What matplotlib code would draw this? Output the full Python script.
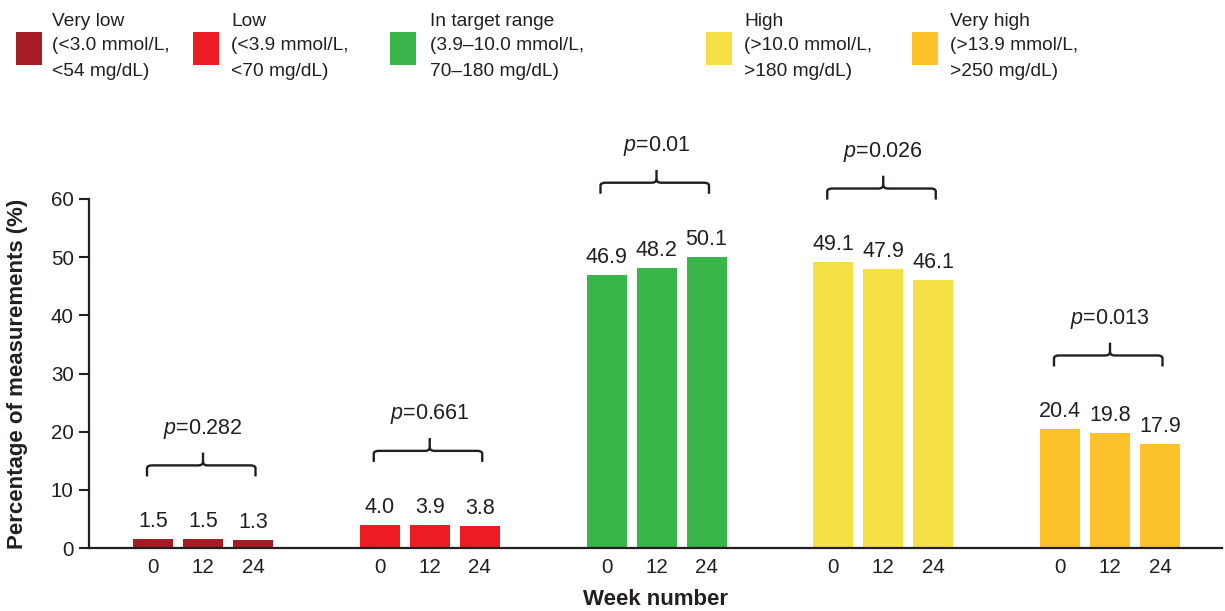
import matplotlib
matplotlib.use("Agg")
import matplotlib.pyplot as plt
import numpy as np
from matplotlib.patches import Rectangle
from matplotlib.path import Path
from matplotlib.patches import PathPatch

plt.rcParams['font.family'] = ['Liberation Sans', 'DejaVu Sans']
plt.rcParams['mathtext.fontset'] = 'custom'
plt.rcParams['mathtext.rm'] = 'Liberation Sans'
plt.rcParams['mathtext.it'] = 'Liberation Sans:italic'

weeks = ["0", "12", "24"]
categories = ["Very low", "Low", "In target range", "High", "Very high"]
legend_sub = ["(<3.0 mmol/L,\n<54 mg/dL)", "(<3.9 mmol/L,\n<70 mg/dL)",
              "(3.9\u201310.0 mmol/L,\n70\u2013180 mg/dL)", "(>10.0 mmol/L,\n>180 mg/dL)",
              "(>13.9 mmol/L,\n>250 mg/dL)"]
values = [[1.5, 1.5, 1.3], [4.0, 3.9, 3.8], [46.9, 48.2, 50.1],
          [49.1, 47.9, 46.1], [20.4, 19.8, 17.9]]
pvalues = ["0.282", "0.661", "0.01", "0.026", "0.013"]
colors = ["#A51C24", "#ED1C24", "#39B54A", "#F5E146", "#FBC22A"]

TXT = "#231F20"
W, H = 1225, 611
fig = plt.figure(figsize=(W / 100, H / 100), dpi=100)
ax = fig.add_axes([89 / W, 1 - 548 / H, (1222 - 89) / W, (548 - 199) / H])

group_step = 4.535
first_center = 2.28
offsets = np.array([-1, 0, 1])
xtick_pos, xtick_lab = [], []
for g, vals in enumerate(values):
    c = first_center + g * group_step
    xs = c + offsets
    ax.bar(xs, vals, width=0.8, color=colors[g], edgecolor='none', zorder=2)
    for x, v in zip(xs, vals):
        ax.text(x, v + 1.2, f"{v:.1f}", ha='center', va='bottom', fontsize=15.5, color=TXT)
    xtick_pos.extend(xs)
    xtick_lab.extend(weeks)
    # curly bracket
    base = max(vals) + 10.8
    xl, xr = xs[0] - 0.12, xs[-1] + 0.05
    hy = base + 1.9
    r = 0.1
    verts = [(xl, base), (xl, hy - 0.5), (xl, hy), (xl + r, hy),
             (c - r, hy), (c, hy), (c, hy + 0.6), (c, hy + 2.2)]
    codes = [Path.MOVETO, Path.LINETO, Path.CURVE3, Path.CURVE3,
             Path.LINETO, Path.CURVE3, Path.CURVE3, Path.LINETO]
    ax.add_patch(PathPatch(Path(verts, codes), fill=False, edgecolor=TXT, lw=1.7, clip_on=False))
    verts = [(xr, base), (xr, hy - 0.5), (xr, hy), (xr - r, hy),
             (c + r, hy), (c, hy), (c, hy + 0.6)]
    codes = [Path.MOVETO, Path.LINETO, Path.CURVE3, Path.CURVE3,
             Path.LINETO, Path.CURVE3, Path.CURVE3]
    ax.add_patch(PathPatch(Path(verts, codes), fill=False, edgecolor=TXT, lw=1.7, clip_on=False))
    ax.text(c, hy + 6.3, r"$\mathit{p}$=" + pvalues[g], ha='center', va='center',
            fontsize=15.5, color=TXT)

ax.set_xlim(0, (1222 - 89) / 50)
ax.set_ylim(0, 60)
ax.set_yticks(range(0, 61, 10))
ax.set_xticks(xtick_pos)
ax.set_xticklabels(xtick_lab)
ax.tick_params(axis='x', length=0, pad=7, labelsize=14.8, colors=TXT)
ax.tick_params(axis='y', length=7, width=1.5, pad=4, labelsize=14.8, colors=TXT, direction='out')
for s in ['top', 'right']:
    ax.spines[s].set_visible(False)
for s in ['left', 'bottom']:
    ax.spines[s].set_color(TXT)
    ax.spines[s].set_linewidth(1.6)
ax.set_ylabel("Percentage of measurements (%)", fontsize=16, fontweight='bold', color=TXT, labelpad=16)
ax.set_xlabel("Week number", fontsize=16, fontweight='bold', color=TXT, labelpad=9)

# legend
patch_x = [16, 193, 390, 706, 912]
text_x = [52, 231, 430, 744, 950]
for i in range(5):
    fig.patches.append(Rectangle((patch_x[i] / W, 1 - 65 / H), 26 / W, 33 / H,
                                 transform=fig.transFigure, facecolor=colors[i], edgecolor='none'))
    fig.text(text_x[i] / W, 1 - 21 / H, categories[i], ha='left', va='center', fontsize=13.8, color=TXT)
    lines = legend_sub[i].split("\n")
    fig.text(text_x[i] / W, 1 - 46 / H, lines[0], ha='left', va='center', fontsize=13.8, color=TXT)
    fig.text(text_x[i] / W, 1 - 71 / H, lines[1], ha='left', va='center', fontsize=13.8, color=TXT)

fig.savefig("out.png", dpi=100)
